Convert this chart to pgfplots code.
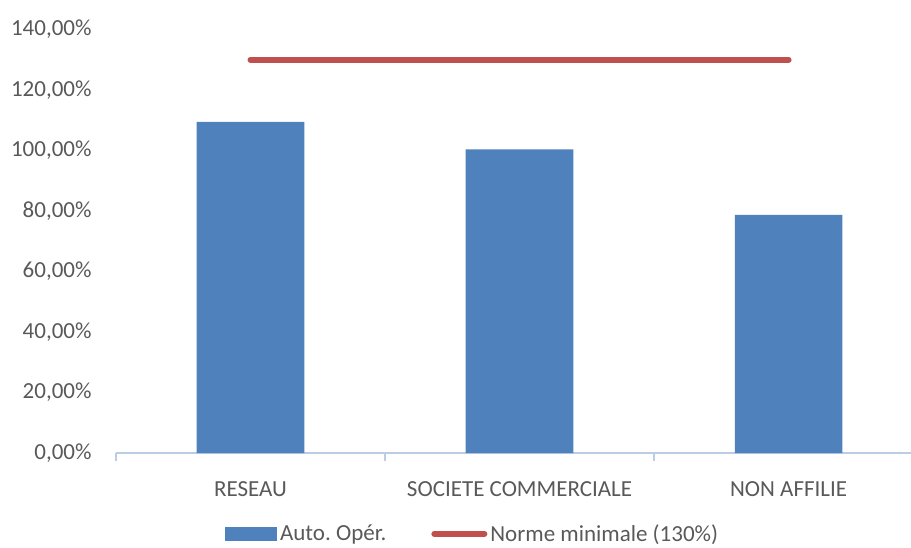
\documentclass[border=0pt]{standalone}
\usepackage{fontspec}
\setmainfont{Carlito}
\usepackage{pgfplots}
\pgfplotsset{compat=1.18}
\definecolor{barblue}{HTML}{4F81BD}
\definecolor{linered}{HTML}{C0504D}
\definecolor{axblue}{HTML}{B9CDE5}
\definecolor{txt}{HTML}{595959}
\frenchspacing
\begin{document}
\begin{tikzpicture}
\useasboundingbox (-116pt,-94pt) rectangle (795pt,453pt);
\begin{axis}[
  at={(0,0)}, anchor=south west,
  scale only axis, width=795pt, height=423.5pt,
  xmin=-0.5, xmax=2.455, ymin=0, ymax=140,
  axis x line*=bottom, axis y line*=left,
  x axis line style={draw=axblue, line width=1.5pt, -},
  y axis line style={draw=none},
  xtick={0,1,2},
  xticklabels={RESEAU,SOCIETE COMMERCIALE,NON AFFILIE},
  major x tick style={draw=none},
  minor xtick={-0.5,0.5,1.5,2.5},
  minor x tick style={draw=axblue, line width=1.2pt},
  minor tick length=8pt,
  tick align=outside,
  ytick={0,20,...,140},
  ytick style={draw=none},
  yticklabel={\pgfmathprintnumber[fixed,fixed zerofill,precision=2,use comma]{\tick}\%},
  /pgf/number format/assume math mode=true,
  ticklabel style={font=\fontsize{23}{27}\selectfont, text=txt},
  xticklabel style={anchor=base, yshift=-39pt},
  yticklabel style={anchor=east, inner sep=0pt, xshift=-20pt},
  legend columns=2,
  legend style={draw=none, fill=none, inner sep=0pt, at={(0.137,-0.191)}, anchor=west,
    font=\fontsize{23}{27}\selectfont, text=txt,
    /tikz/every even column/.append style={column sep=42pt},
    nodes={inner sep=3pt}},
]
\addplot[ybar, bar width=0.4, fill=barblue, draw=none,
  legend image code/.code={\fill[barblue] (0pt,-7pt) rectangle (52pt,7pt);}]
  coordinates {(0,109.5) (1,100.4) (2,78.7)};
\addlegendentry{Auto.\ Opér.}
\addplot[linered, line width=6pt, line cap=round,
  legend image code/.code={\draw[linered, line width=6pt, line cap=round] (3pt,0pt) -- (53pt,0pt);}]
  coordinates {(0,130) (2,130)};
\addlegendentry{Norme minimale (130\%)}
\end{axis}
\end{tikzpicture}
\end{document}
